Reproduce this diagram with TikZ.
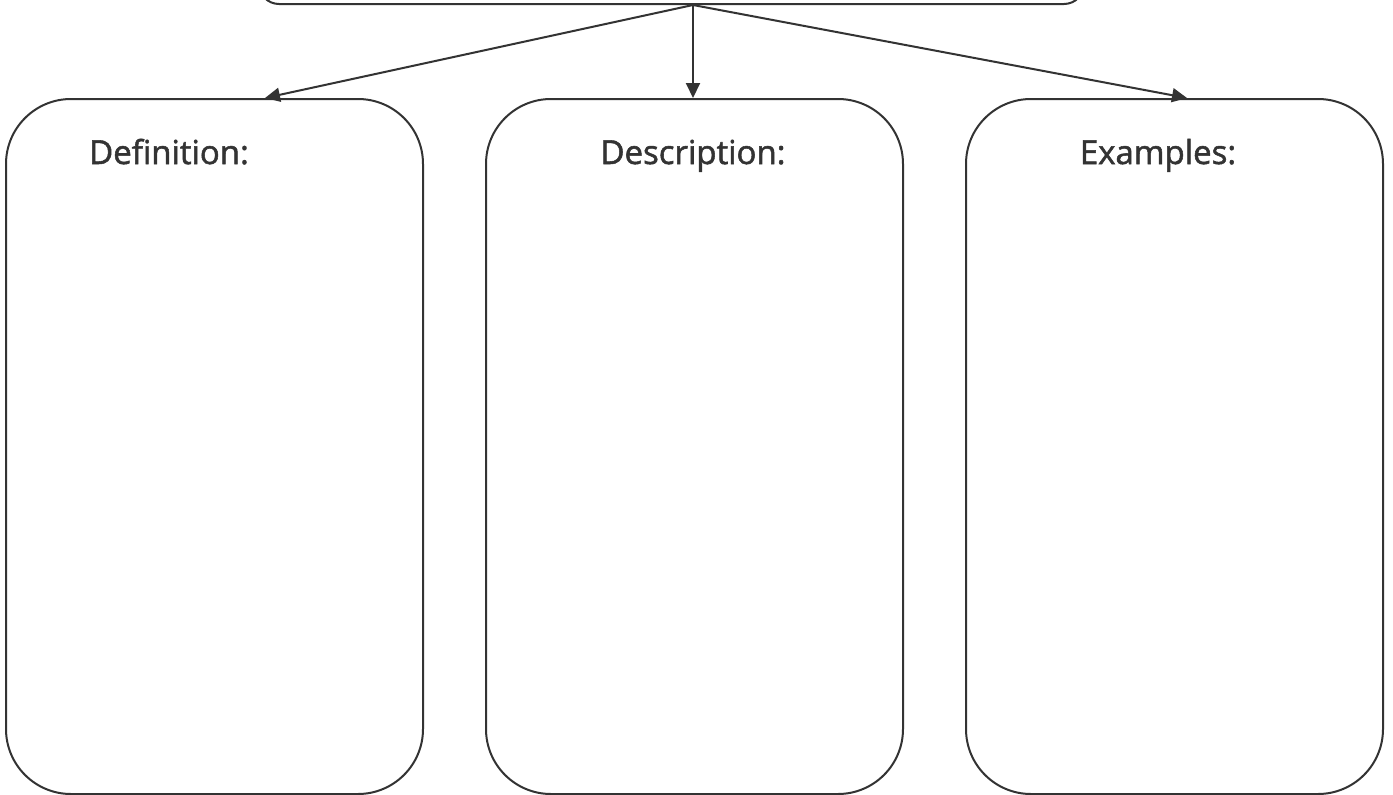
\documentclass[tikz,border=0pt]{standalone}
\usepackage{fontspec}
\setmainfont{Open Sans}
\newfontfamily\lblfont[FakeBold=1.6]{Open Sans}
\usetikzlibrary{arrows.meta}
\definecolor{ink}{HTML}{333333}
\begin{document}
\begin{tikzpicture}[x=1pt,y=-1pt,
  card/.style={draw=ink,line width=2pt,rounded corners=65pt,minimum width=417pt,minimum height=695pt,inner sep=0pt,anchor=north west},
  headbox/.style={draw=ink,line width=2pt,rounded corners=20pt,minimum width=825pt,minimum height=70pt,inner sep=0pt,anchor=south west},
  lbl/.style={text=ink,font=\lblfont\fontsize{33}{36}\selectfont,anchor=base,inner sep=0pt},
  conn/.style={draw=ink,line width=2pt,-{Triangle[length=15pt,width=14pt]}}]
\useasboundingbox (0,0) rectangle (1393,795);
\clip (0,0) rectangle (1393,795);
\node[headbox] (top) at (258,5) {};
\node[card] (def) at (5,98) {};
\node[card] (des) at (485,98) {};
\node[card] (exa) at (965,98) {};
\node[lbl] (tdef) at (169,164) {Definition:};
\node[lbl] (tdes) at (693,164) {Description:};
\node[lbl] (texa) at (1158,164) {Examples:};
\coordinate (src) at (693,5);
\coordinate (tgtdef) at (265,98);
\coordinate (tgtdes) at (693,98);
\coordinate (tgtexa) at (1187,98);
\draw[conn] (src) -- (tgtdef);
\draw[conn] (src) -- (tgtdes);
\draw[conn] (src) -- (tgtexa);
\end{tikzpicture}
\end{document}
